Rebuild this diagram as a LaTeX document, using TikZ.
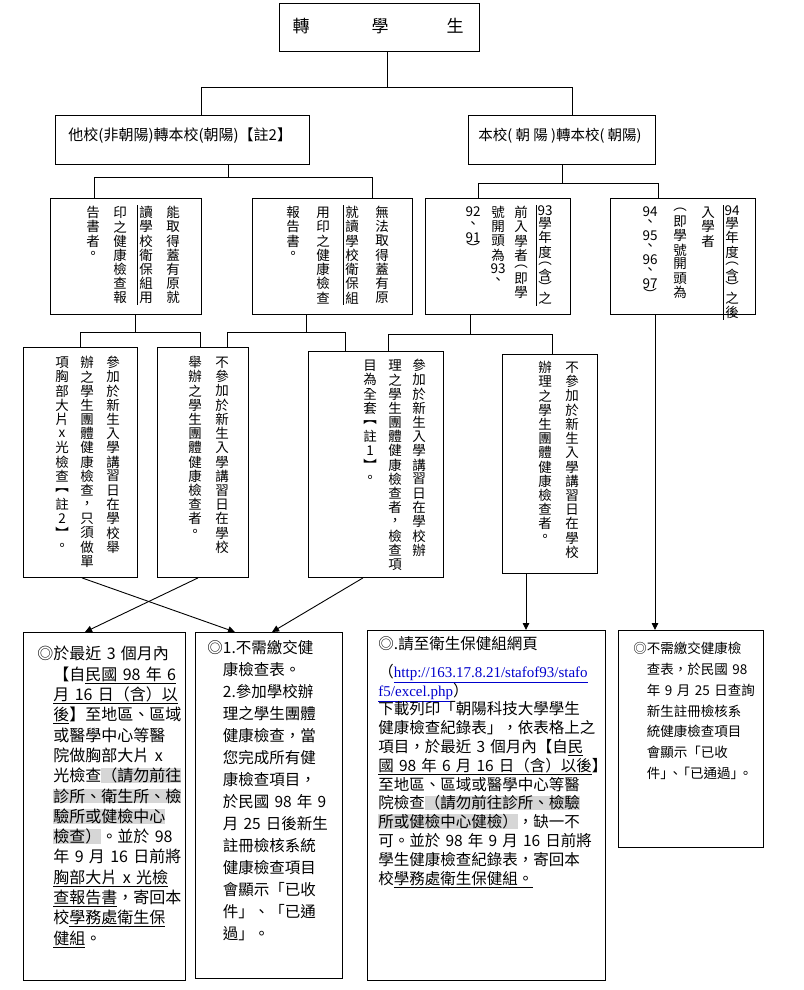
\documentclass[tikz,border=0pt]{standalone}
\usepackage{fontspec}
\setmainfont{Noto Sans CJK TC}
\newfontfamily\serifurl{Liberation Serif}
\usetikzlibrary{arrows.meta}
\definecolor{hlgray}{RGB}{214,214,214}
\definecolor{linkblue}{RGB}{0,0,205}
\makeatletter
\def\vpitch{14.2pt}
\newcommand\vstk[1]{\vbox{\offinterlineskip\hsize=16pt
  \@tfor\vc@:=#1\do{\gdef\vh@{\vpitch}\setbox0=\hbox{\vc@}%
  \vbox to \vh@{\vss\hbox to\hsize{\hss\box0\hss}\vss}}}}
\newcommand\hh[2]{\gdef\vh@{#1}#2}
\makeatother
\newcommand\ul[1]{\underline{#1}}
\newcommand\hl[1]{{\setlength\fboxsep{0pt}\colorbox{hlgray}{#1}}}
\newcommand\hi{\hspace*{1em}}
\newcommand\cbr{\makebox[0.6em][l]{」}}
\newcommand\obr{\makebox[0.6em][r]{「}}
\begin{document}
\begin{tikzpicture}[x=1pt,y=-1pt,line width=0.9pt,
  bx/.style={draw,inner sep=0,anchor=north west},
  vt/.style={inner sep=0,anchor=north,font=\fontsize{13.5}{14}\selectfont},
  tx/.style={inner sep=0,anchor=north west,align=left,text width=230pt},
  arr/.style={-{Triangle[length=7pt,width=6.5pt]}}]
\fill[white] (0,0) rectangle (803,990);
\useasboundingbox (0,0) rectangle (803,990);
% boxes
\node[bx,minimum width=200pt,minimum height=48pt] (bT) at (279,3) {};
\node[bx,minimum width=254pt,minimum height=49pt] (bL1) at (55,115) {};
\node[bx,minimum width=187pt,minimum height=49pt] (bR1) at (468,115) {};
\node[bx,minimum width=151pt,minimum height=116pt] (bA) at (50,198) {};
\node[bx,minimum width=160pt,minimum height=116pt] (bB) at (252,198) {};
\node[bx,minimum width=145pt,minimum height=116pt] (bC) at (425,198) {};
\node[bx,minimum width=145pt,minimum height=116pt] (bD) at (610,198) {};
\node[bx,minimum width=114pt,minimum height=230pt] (bE) at (23,347) {};
\node[bx,minimum width=91pt,minimum height=230pt] (bF) at (157,347) {};
\node[bx,minimum width=135pt,minimum height=226pt] (bG) at (308,351) {};
\node[bx,minimum width=95pt,minimum height=219pt] (bH) at (502,354) {};
\node[bx,minimum width=162pt,minimum height=348pt] (bI) at (23,632) {};
\node[bx,minimum width=147pt,minimum height=346pt] (bJ) at (195,632) {};
\node[bx,minimum width=238pt,minimum height=350pt] (bK) at (367,630) {};
\node[bx,minimum width=145pt,minimum height=217pt] (bL) at (618,630) {};
% titles
\node[inner sep=0,font=\fontsize{17}{20}\selectfont] (tT) at (378,26) {轉\hspace{62pt}學\hspace{58pt}生};
\node[inner sep=0,anchor=west,font=\fontsize{15}{17}\selectfont] (tL1) at (68,136) {他校(非朝陽)轉本校(朝陽)【註2】};
\node[inner sep=0,font=\fontsize{14.5}{17}\selectfont] (tR1) at (560,136) {本校( 朝 陽 )轉本校( 朝陽)};
% tree connectors
\coordinate (j0) at (387,87); \coordinate (j0a) at (201,87); \coordinate (j0b) at (572,87);
\draw (j0 |- bT.south) -- (j0);
\draw (j0a |- bL1.north) -- (j0a) -- (j0b) -- (j0b |- bR1.north);
\coordinate (j1) at (228,177); \coordinate (j1a) at (94,177); \coordinate (j1b) at (372,177);
\draw (j1 |- bL1.south) -- (j1);
\draw (j1a |- bA.north) -- (j1a) -- (j1b) -- (j1b |- bB.north);
\coordinate (j2) at (562,183); \coordinate (j2a) at (478,183); \coordinate (j2b) at (658,183);
\draw (j2 |- bR1.south) -- (j2);
\draw (j2a |- bC.north) -- (j2a) -- (j2b) -- (j2b |- bD.north);
\coordinate (j3) at (135,332); \coordinate (j3a) at (80,332); \coordinate (j3b) at (200,332);
\draw (j3 |- bA.south) -- (j3);
\draw (j3a |- bE.north) -- (j3a) -- (j3b) -- (j3b |- bF.north);
\coordinate (j4) at (306,332); \coordinate (j4a) at (227,332); \coordinate (j4b) at (345,332);
\draw (j4 |- bB.south) -- (j4);
\draw (j4a |- bF.north) -- (j4a) -- (j4b) -- (j4b |- bG.north);
\coordinate (j5) at (470,334); \coordinate (j5a) at (388,334); \coordinate (j5b) at (552,334);
\draw (j5 |- bC.south) -- (j5);
\draw (j5a |- bG.north) -- (j5a) -- (j5b) -- (j5b |- bH.north);
% arrows
\coordinate (xa1) at (82,0); \coordinate (xa2) at (235,0);
\coordinate (xb1) at (198,0); \coordinate (xb2) at (85,0);
\coordinate (xc1) at (363,0); \coordinate (xc2) at (272,0);
\coordinate (xd) at (526,0); \coordinate (xe) at (655,0);
\draw[arr] (xa1 |- bE.south) -- (xa2 |- bJ.north);
\draw[arr] (xb1 |- bF.south) -- (xb2 |- bI.north);
\draw[arr] (xc1 |- bG.south) -- (xc2 |- bJ.north);
\draw[arr] (xd |- bH.south) -- (xd |- bK.north);
\draw[arr] (xe |- bD.south) -- (xe |- bL.north);
% row 2 vertical texts
\node[vt] (cA1) at (173,205) {\vstk{能取得蓋有原就}};
\node[vt] (cA2) at (146,205) {\vstk{讀學校衛保組用}};
\node[vt] (cA3) at (120,205) {\vstk{印之健康檢查報}};
\node[vt] (cA4) at (93,205) {\vstk{告書者。}};
\node[vt] (cB1) at (382,205) {\vstk{無法取得蓋有原}};
\node[vt] (cB2) at (352,205) {\vstk{就讀學校衛保組}};
\node[vt] (cB3) at (323,205) {\vstk{用印之健康檢查}};
\node[vt] (cB4) at (293,205) {\vstk{報告書。}};
\node[vt] (cC1) at (545,205) {\vstk{{\hh{11pt}{93}}學年度{\hh{9pt}{︵}}含{\hh{9pt}{︶}}之}};
\node[vt] (cC2) at (521,205) {\vstk{前入學者{\hh{9pt}{︵}}即學}};
\node[vt] (cC3) at (498,205) {\vstk{號開頭為{\hh{12pt}{93}}、}};
\node[vt] (cC4) at (473,205) {\vstk{{\hh{12pt}{92}}、{\hh{12pt}{91}}{\hh{9pt}{︶}}}};
\node[vt] (cD1) at (732,205) {\vstk{{\hh{11pt}{94}}學年度{\hh{9pt}{︵}}含{\hh{9pt}{︶}}之後}};
\node[vt] (cD2) at (708,205) {\vstk{入學者}};
\node[vt] (cD3) at (680,205) {\vstk{{\hh{9pt}{︵}}即學號開頭為}};
\node[vt] (cD4) at (650,205) {\vstk{{\hh{12pt}{94}}{\hh{12pt}{、}}{\hh{12pt}{95}}{\hh{12pt}{、}}{\hh{12pt}{96}}{\hh{12pt}{、}}{\hh{12pt}{97}}{\hh{9pt}{︶}}}};
\draw[line width=0.7pt] ([xshift=0pt]cA2.north west) -- ([xshift=0pt]cA2.south west);
\draw[line width=0.7pt] ([xshift=0pt]cB2.north west) -- ([xshift=0pt]cB2.south west);
\draw[line width=0.7pt] ([xshift=0pt]cC1.north west) -- ([xshift=0pt]cC1.south west);
\draw[line width=0.7pt] ([xshift=0pt]cD1.north west) -- ([xshift=0pt]cD1.south west);
% row 3 vertical texts
\node[vt] (cE1) at (113,355) {\vstk{參加於新生入學講習日在學校舉}};
\node[vt] (cE2) at (87,355) {\vstk{辦之學生團體健康檢查，只須做單}};
\node[vt] (cE3) at (62,355) {\vstk{項胸部大片x光檢查︻註2︼。}};
\node[vt] (cF1) at (222,355) {\vstk{不參加於新生入學講習日在學校}};
\node[vt] (cF2) at (195,355) {\vstk{舉辦之學生團體健康檢查者。}};
\node[vt] (cG1) at (419,358) {\vstk{參加於新生入學講習日在學校辦}};
\node[vt] (cG2) at (395,358) {\vstk{理之學生團體健康檢查者，檢查項}};
\node[vt] (cG3) at (370,358) {\vstk{目為全套︻註1︼。}};
\node[vt] (cH1) at (572,360) {\vstk{不參加於新生入學講習日在學校}};
\node[vt] (cH2) at (545,360) {\vstk{辦理之學生團體健康檢查者。}};
% row 4 texts
\node[tx,font=\fontsize{16}{20.3}\selectfont] (tI) at (37,646) {◎於最近 3 個月內\\
\hi{}【自\ul{民國 98 年 6}\\
\hi{}\ul{月 16 日（含）以}\\
\hi{}\ul{後}】至地區、區域\\
\hi{}或醫學中心等醫\\
\hi{}院做胸部大片 x\\
\hi{}光檢查\hl{（請勿前往}\\
\hi{}\hl{診所、衛生所、檢}\\
\hi{}\hl{驗所或健檢中心}\\
\hi{}\hl{檢查）}。並於 98\\
\hi{}年 9 月 16 日前將\\
\hi{}\ul{胸部大片 x 光檢}\\
\hi{}\ul{查報告書}，寄回本\\
\hi{}校\ul{學務處衛生保}\\
\hi{}\ul{健組}。};
\node[tx,font=\fontsize{15.5}{22}\selectfont] (tJ) at (207,640) {◎1.不需繳交健\\
\hi{}康檢查表。\\
\hi{}2.參加學校辦\\
\hi{}理之學生團體\\
\hi{}健康檢查，當\\
\hi{}您完成所有健\\
\hi{}康檢查項目，\\
\hi{}於民國 98 年 9\\
\hi{}月 25 日後新生\\
\hi{}註冊檢核系統\\
\hi{}健康檢查項目\\
\hi{}會顯示「已收\\
\hi{}件」、「已通\\
\hi{}過」。};
\node[tx,font=\fontsize{15.5}{18.8}\selectfont] (tK) at (378,636) {◎.請至衛生保健組網頁\\[9pt]
（{\serifurl\fontsize{15}{18.8}\selectfont\textcolor{linkblue}{\ul{http://163.17.8.21/stafof93/stafo}}}\\
{\serifurl\fontsize{15}{18.8}\selectfont\textcolor{linkblue}{\ul{f5/excel.php}}}）\\
下載列印「朝陽科技大學學生\\
健康檢查紀錄表」，依表格上之\\
項目，於最近 3 個月內【自\ul{民}\\
\ul{國 98 年 6 月 16 日（含）以後}】\\
至地區、區域或醫學中心等醫\\
院檢查\hl{（請勿前往診所、檢驗}\\
\hl{所或健檢中心健檢）}，缺一不\\
可。並於 98 年 9 月 16 日前將\\
學生健康檢查紀錄表，寄回本\\
校\ul{學務處衛生保健組。}};
\node[tx,font=\fontsize{13.5}{20.7}\selectfont] (tL) at (633,642) {◎不需繳交健康檢\\
\hi{}查表，於民國 98\\
\hi{}年 9 月 25 日查詢\\
\hi{}新生註冊檢核系\\
\hi{}統健康檢查項目\\
\hi{}會顯示「已收\\
\hi{}件\cbr{}、\obr{}已通過\cbr{}。};
\end{tikzpicture}
\end{document}
